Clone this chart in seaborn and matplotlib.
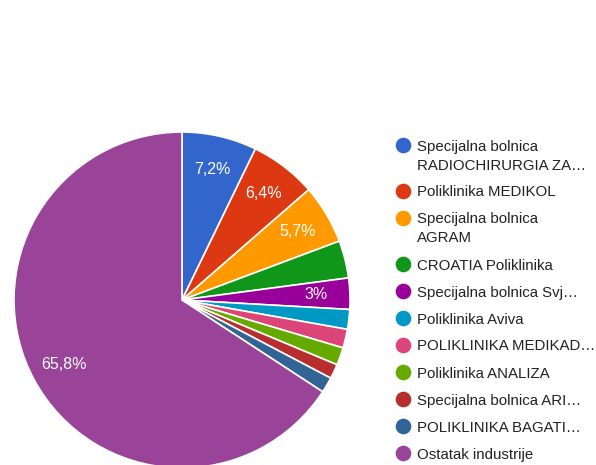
import matplotlib
matplotlib.use("Agg")
import matplotlib.pyplot as plt
import seaborn as sns

# slice data (percent share)
names = [
    "Specijalna bolnica\nRADIOCHIRURGIA ZA…",
    "Poliklinika MEDIKOL",
    "Specijalna bolnica\nAGRAM",
    "CROATIA Poliklinika",
    "Specijalna bolnica Svj…",
    "Poliklinika Aviva",
    "POLIKLINIKA MEDIKAD…",
    "Poliklinika ANALIZA",
    "Specijalna bolnica ARI…",
    "POLIKLINIKA BAGATI…",
    "Ostatak industrije",
]
shares = [7.2, 6.4, 5.7, 3.6, 3.0, 1.9, 1.8, 1.7, 1.4, 1.5, 65.8]
slice_labels = ["7,2%", "6,4%", "5,7%", "", "3%", "", "", "", "", "", "65,8%"]
colors = ["#3366cc", "#dc3912", "#ff9900", "#109618", "#990099", "#0099c6",
          "#dd4477", "#66aa00", "#b82e2e", "#316395", "#994499"]

sns.set_theme(style="white")
plt.rcParams["font.family"] = ["Liberation Sans", "DejaVu Sans"]
palette = sns.color_palette(colors)

W, H = 596, 465
fig = plt.figure(figsize=(W / 100, H / 100), dpi=100)
ax = fig.add_axes([0, 0, 1, 1])

cx, cy, r = 182, H - 300, 168
wedges, texts = ax.pie(shares, colors=palette, labels=slice_labels,
                       startangle=90, counterclock=False,
                       center=(cx, cy), radius=r, labeldistance=0.8,
                       wedgeprops=dict(edgecolor="white", linewidth=1.2),
                       textprops=dict(color="white", fontsize=11.5))
for t in texts:
    t.set_ha("center")
    t.set_va("center")
ax.set_xlim(0, W)
ax.set_ylim(0, H)
ax.set_aspect("equal")
ax.axis("off")

# legend on the right, one dot + label per slice
y = 145
for name, col in zip(names, palette):
    ax.scatter([403], [H - y], s=105, color=col, clip_on=False, zorder=3)
    for i, line in enumerate(name.split("\n")):
        ax.text(417, H - y - 19 * i, line, fontsize=10.8, color="#222222",
                va="center_baseline", ha="left")
    y += 27 + 19 * name.count("\n")

fig.savefig("out.png", dpi=100)
